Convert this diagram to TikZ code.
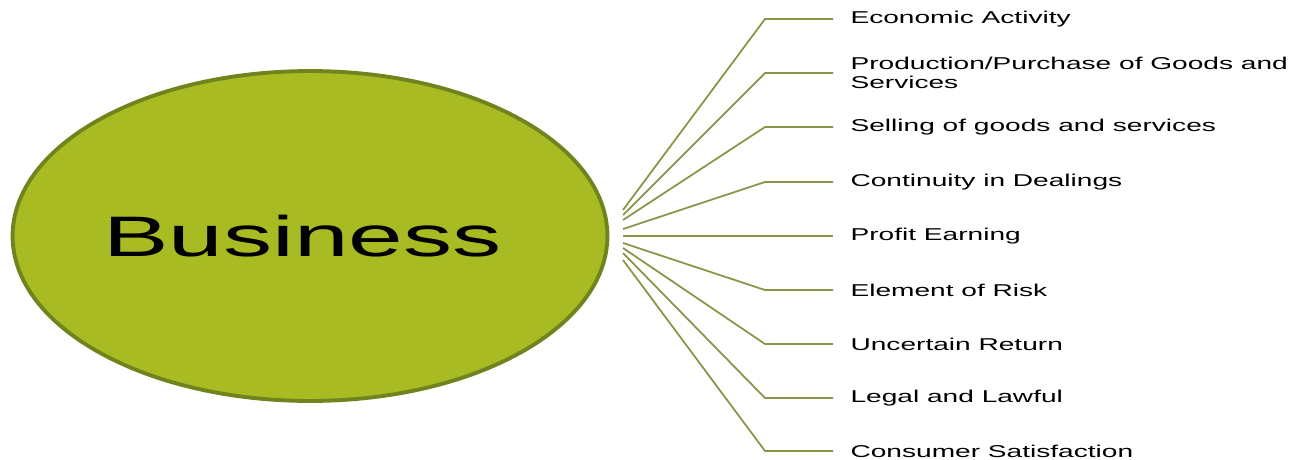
\documentclass[tikz,border=0pt]{standalone}
\usepackage{fontspec}
\usepackage{graphicx}
\setmainfont{Liberation Sans}
\usetikzlibrary{shapes.geometric}
\definecolor{bizgreen}{RGB}{168,187,35}
\definecolor{bizedge}{RGB}{112,132,30}
\definecolor{twig}{RGB}{138,148,72}
\tikzset{
  item/.style={anchor=west,xscale=1.64,inner xsep=5.9pt,inner ysep=0pt,align=left,
    font=\fontsize{9.75}{10.8}\selectfont},
  twigline/.style={draw=twig,line width=1pt}
}
\begin{document}
\begin{tikzpicture}[x=0.02cm,y=-0.02cm]
	\useasboundingbox (0,0) rectangle (1306,460);
	\node[ellipse,fill=bizgreen,draw=bizedge,line width=2.2pt,inner sep=0pt,
		minimum width=11.9cm,minimum height=6.6cm,font=\fontsize{32.5}{36}\selectfont]
		(biz) at (310,236) {\hspace*{-0.3cm}\scalebox{1.72}[1]{Business}};
	% fan of start points right of the ellipse
	\coordinate (s1) at (623,210);
	\coordinate (s2) at (623,215);
	\coordinate (s3) at (623,220);
	\coordinate (s4) at (623,229);
	\coordinate (s5) at (623,236);
	\coordinate (s6) at (623,243);
	\coordinate (s7) at (623,248);
	\coordinate (s8) at (623,253);
	\coordinate (s9) at (623,260);
	% labels
	\node[item] (l1) at (833,19) {Economic Activity};
	\node[item] (l2) at (833,73) {Production/Purchase of Goods and\\Services};
	\node[item] (l3) at (833,127) {Selling of goods and services};
	\node[item] (l4) at (833,182) {Continuity in Dealings};
	\node[item] (l5) at (833,236) {Profit Earning};
	\node[item] (l6) at (833,290) {Element of Risk};
	\node[item] (l7) at (833,344) {Uncertain Return};
	\node[item] (l8) at (833,398) {Legal and Lawful};
	\node[item] (l9) at (833,451) {Consumer Satisfaction};
	% connectors
	\draw[twigline] (s1) -- (765,19) -- (l1.west);
	\draw[twigline] (s2) -- (765,73) -- (l2.west);
	\draw[twigline] (s3) -- (765,127) -- (l3.west);
	\draw[twigline] (s4) -- (765,182) -- (l4.west);
	\draw[twigline] (s5) -- (l5.west);
	\draw[twigline] (s6) -- (765,290) -- (l6.west);
	\draw[twigline] (s7) -- (765,344) -- (l7.west);
	\draw[twigline] (s8) -- (765,398) -- (l8.west);
	\draw[twigline] (s9) -- (765,451) -- (l9.west);
\end{tikzpicture}
\end{document}
